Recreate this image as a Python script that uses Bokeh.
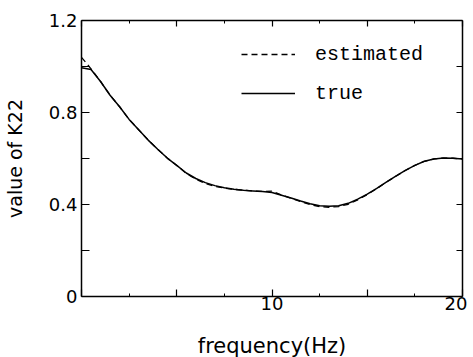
from bokeh.plotting import figure
from bokeh.models import (Range1d, LinearAxis, FixedTicker, Legend, LegendItem)
from bokeh.embed import file_html
from bokeh.resources import INLINE

freq = [0.0, 0.5, 1.0, 1.5, 2.0, 2.5, 3.0, 3.5, 4.0, 4.5, 5.0, 5.5, 6.0, 6.5,
        7.0, 7.5, 8.0, 8.5, 9.0, 9.5, 10.0, 10.5, 11.0, 11.5, 12.0, 12.5, 13.0,
        13.5, 14.0, 14.5, 15.0, 15.5, 16.0, 16.5, 17.0, 17.5, 18.0, 18.5, 19.0,
        19.5, 20.0]
k22_true = [0.995, 0.987, 0.935, 0.875, 0.825, 0.770, 0.725, 0.680, 0.640, 0.602,
            0.570, 0.537, 0.513, 0.495, 0.482, 0.473, 0.466, 0.462, 0.459, 0.456,
            0.452, 0.440, 0.428, 0.415, 0.403, 0.395, 0.392, 0.395, 0.405, 0.423,
            0.445, 0.470, 0.497, 0.523, 0.548, 0.570, 0.588, 0.598, 0.602, 0.601,
            0.598]
k22_est = [1.040, 0.990, 0.935, 0.875, 0.825, 0.770, 0.725, 0.680, 0.640, 0.602,
           0.570, 0.535, 0.510, 0.491, 0.479, 0.471, 0.466, 0.462, 0.459, 0.457,
           0.458, 0.441, 0.427, 0.413, 0.400, 0.391, 0.388, 0.391, 0.401, 0.420,
           0.443, 0.469, 0.497, 0.523, 0.548, 0.570, 0.588, 0.598, 0.602, 0.601,
           0.598]

x_ticks = [0, 5, 10, 15, 20]
x_minor = [2.5, 7.5, 12.5, 17.5]
x_labels = {0: "", 5: "", 10: "10", 15: "", 20: "20"}
y_ticks = [0, 0.2, 0.4, 0.6, 0.8, 1.0, 1.2]
y_labels = {0: "0", 0.2: "", 0.4: "0.4", 0.6: "", 0.8: "0.8", 1.0: "", 1.2: "1.2"}

SANS = "DejaVu Sans"
MONO = "Liberation Mono"

p = figure(output_backend="svg", toolbar_location=None,
           frame_width=381, frame_height=276,
           min_border_left=71, min_border_right=5, min_border_top=20, min_border_bottom=60,
           x_range=Range1d(0, 20), y_range=Range1d(0, 1.2),
           x_axis_label="frequency(Hz)", y_axis_label="value of K22")
p.outline_line_color = None
p.xgrid.visible = False
p.ygrid.visible = False
p.background_fill_color = "white"
p.border_fill_color = "white"

r_true = p.line(freq, k22_true, line_color="black", line_width=1.5)
r_est = p.line(freq, k22_est, line_color="black", line_width=1.3, line_dash="6 4")

def style(ax, labels, ticks, minor, tick_in, show_labels=True):
    ax.ticker = FixedTicker(ticks=ticks, minor_ticks=minor)
    ax.major_label_overrides = labels
    ax.major_tick_in = tick_in
    ax.major_tick_out = 0
    ax.minor_tick_in = 3
    ax.minor_tick_out = 0
    ax.axis_line_width = 1.5
    ax.axis_line_color = "black"
    ax.major_tick_line_width = 1.2
    ax.minor_tick_line_width = 1.0
    ax.major_label_text_font = SANS
    ax.major_label_text_font_size = "18px" if show_labels else "0px"
    ax.major_label_text_color = "black"
    ax.axis_label_text_font = SANS
    ax.axis_label_text_font_style = "normal"
    ax.axis_label_text_color = "black"

xa = p.xaxis[0]
style(xa, x_labels, x_ticks, x_minor, 7)
xa.major_label_standoff = 0
xa.axis_label_text_font_size = "21px"
xa.axis_label_standoff = 21

ya = p.yaxis[0]
style(ya, y_labels, y_ticks, [], 8)
ya.major_label_standoff = 4
ya.axis_label_text_font_size = "19px"
ya.axis_label_standoff = 20

top = LinearAxis()
style(top, {t: "" for t in x_ticks}, x_ticks, x_minor, 6, show_labels=False)
top.major_label_standoff = 0
p.add_layout(top, "above")

right = LinearAxis()
style(right, {t: "" for t in y_ticks}, y_ticks, [], 6, show_labels=False)
right.major_label_standoff = 0
p.add_layout(right, "right")

legend = Legend(items=[LegendItem(label="estimated", renderers=[r_est]),
                       LegendItem(label="true", renderers=[r_true])],
                location=(160, 188), padding=0, margin=0, spacing=9,
                glyph_width=54, glyph_height=30, label_height=30,
                label_standoff=20, border_line_color=None,
                background_fill_alpha=0.0,
                label_text_font=MONO, label_text_font_size="20px",
                label_text_color="black")
p.add_layout(legend)

open("out.html", "w").write(file_html(p, INLINE))
